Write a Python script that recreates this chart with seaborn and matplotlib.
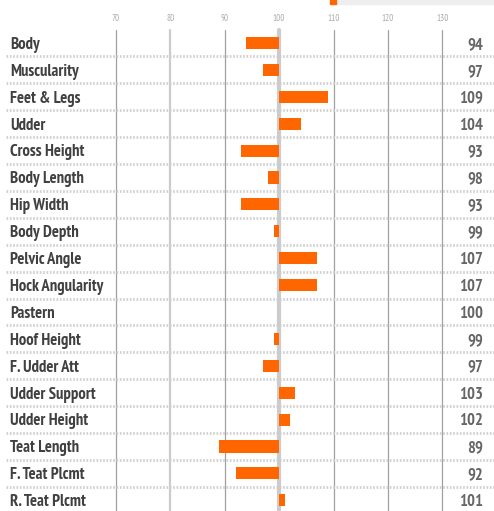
import matplotlib
matplotlib.use("Agg")
import matplotlib.pyplot as plt
import seaborn as sns
import pandas as pd
from matplotlib.patches import Rectangle

traits = ["Body", "Muscularity", "Feet & Legs", "Udder", "Cross Height", "Body Length",
          "Hip Width", "Body Depth", "Pelvic Angle", "Hock Angularity", "Pastern",
          "Hoof Height", "F. Udder Att", "Udder Support", "Udder Height", "Teat Length",
          "F. Teat Plcmt", "R. Teat Plcmt"]
values = [94, 97, 109, 104, 93, 98, 93, 99, 107, 107, 100, 99, 97, 103, 102, 89, 92, 101]
ticks = [70, 80, 90, 100, 110, 120, 130]
base = 100

sns.set_theme(style="white")
FONT = ['PT Sans Narrow', 'Liberation Sans Narrow', 'DejaVu Sans']
plt.rcParams['font.family'] = FONT

df = pd.DataFrame({"trait": traits, "dev": [v - base for v in values]})

fig = plt.figure(figsize=(4.94, 5.11), dpi=100)
ax = fig.add_axes([0, 0, 1, 1])
n = len(traits)
ylo, yhi = 17.4, -1.6
xlo, xhi = -51.3, 39.5

# vertical grid lines
for t in ticks:
    d = t - base
    if t == 100:
        ax.plot([d, d], [-0.5, ylo], color="#cccccc", lw=3, zorder=3)
    elif t == 80:
        ax.plot([d, d], [-0.5, ylo], color="#cccccc", lw=1.6, zorder=1)
    else:
        ax.plot([d, d], [-0.5, ylo], color="#a0a0a0", lw=0.9, zorder=1)
    ax.text(d, -0.93, str(t), ha="center", va="center", fontsize=6.5,
            color="#aaaaaa")

# row separators
for i in range(n - 1):
    ax.plot([-50.2, xhi], [i + 0.5, i + 0.5], color="#d0d0d0", lw=2.0,
            linestyle=(0, (0.6, 0.6)), zorder=2)

sns.barplot(data=df, y="trait", x="dev", orient="h", color="#ff6600",
            width=0.45, ax=ax, saturation=1, zorder=4, linewidth=0)
ax.set_ylim(ylo, yhi)
ax.set_xlim(xlo, xhi)

for i, (t, v) in enumerate(zip(traits, values)):
    ax.text(-49.5, i + 0.07, t, ha="left", va="center", fontsize=12, fontweight="bold",
            color="#404040")
    ax.text(37.5, i + 0.07, str(v), ha="right", va="center", fontsize=12, fontweight="bold",
            color="#666666")

ax.axis("off")

# top slider-like band
fig.patches.append(Rectangle((333/494, 1 - 4/511), 161/494, 4/511, transform=fig.transFigure,
                             color="#eeeeee", zorder=0))
fig.patches.append(Rectangle((330/494, 1 - 4/511), 6/494, 4/511, transform=fig.transFigure,
                             color="#ff6600", zorder=1))

fig.savefig("out.png", dpi=100)
